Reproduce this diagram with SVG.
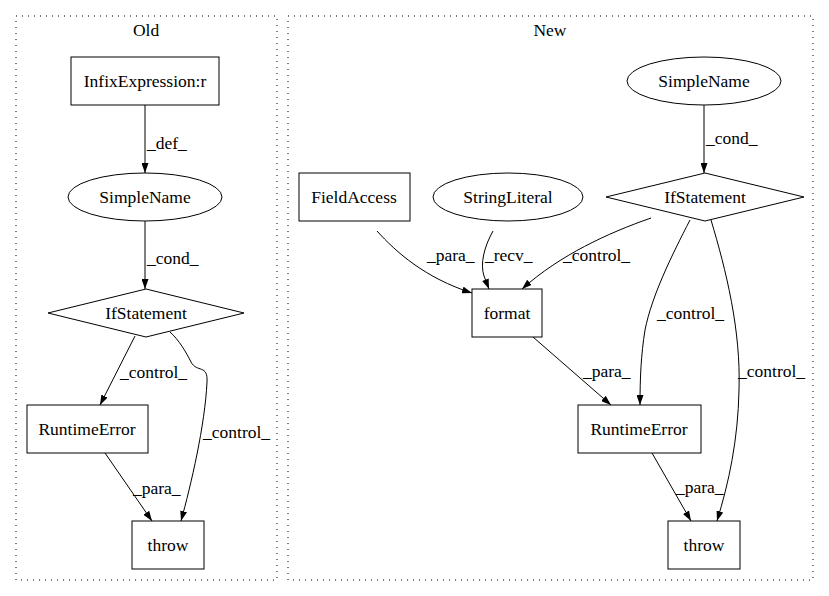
<svg xmlns="http://www.w3.org/2000/svg" width="829" height="596" viewBox="0 0 829 596">
<defs>
<marker id="arr" markerUnits="userSpaceOnUse" markerWidth="10" markerHeight="7" refX="10" refY="3.5" orient="auto">
<path d="M0,0 L10,3.5 L0,7 z" fill="#000"/>
</marker>
<style>
text{font-family:"Liberation Serif","Times New Roman",serif;font-size:17.5px;fill:#000}
.c{text-anchor:middle}
.n{fill:#fff;stroke:#000;stroke-width:1}
.cl{fill:none;stroke:#000;stroke-width:1;stroke-dasharray:1,5}
.e{fill:none;stroke:#000;stroke-width:1;marker-end:url(#arr)}
</style>
</defs>
<rect width="829" height="596" fill="#fff"/>
<g id="cluster_old">
<rect class="cl" x="16" y="16" width="261" height="564"/>
<text class="c" x="146" y="36">Old</text>
</g>
<g id="cluster_new">
<rect class="cl" x="288" y="16" width="525" height="564"/>
<text class="c" x="550" y="36">New</text>
</g>
<g id="connectors">
<path class="e" d="M145,105 L145,173"/>
<text x="147" y="149">_def_</text>
<path class="e" d="M145,221 L145,289"/>
<text x="147" y="264">_cond_</text>
<path class="e" d="M135,336 L100,405"/>
<text x="120" y="378">_control_</text>
<path class="e" d="M170,332 C179,340 186,352 191,362 C197,373 208,364 207,382 C205,425 191,485 181,521"/>
<text x="203" y="438">_control_</text>
<path class="e" d="M105,453 L152,521"/>
<text x="133" y="494">_para_</text>

<path class="e" d="M704,105 L704,173"/>
<text x="706" y="144">_cond_</text>
<path class="e" d="M377,231 C396,252 425,278 472,293"/>
<text x="427" y="261">_para_</text>
<path class="e" d="M493,231 C484,247 480,264 484,276 L489,289"/>
<text x="485" y="261">_recv_</text>
<path class="e" d="M651,218 C608,233 560,255 522,289"/>
<text x="563" y="261">_control_</text>
<path class="e" d="M533,337 L611,405"/>
<text x="583" y="377">_para_</text>
<path class="e" d="M690,220 C672,255 652,295 645,330 C641,355 640,378 640,405"/>
<text x="657" y="319">_control_</text>
<path class="e" d="M711,220 C726,270 741,330 739,390 C738,440 729,482 717,521"/>
<text x="738" y="377">_control_</text>
<path class="e" d="M652,453 L691,521"/>
<text x="676" y="493">_para_</text>
</g>
<g id="old_infix">
<rect class="n" x="71" y="57" width="148" height="48"/>
<text class="c" x="145" y="87">InfixExpression:r</text>
</g>
<g id="old_simplename">
<ellipse class="n" cx="145" cy="197" rx="77" ry="24"/>
<text class="c" x="145" y="203">SimpleName</text>
</g>
<g id="old_if">
<polygon class="n" points="146,289 244,313 146,337 48,313"/>
<text class="c" x="146" y="319">IfStatement</text>
</g>
<g id="old_runtimeerror">
<rect class="n" x="27" y="405" width="121" height="48"/>
<text class="c" x="87" y="435">RuntimeError</text>
</g>
<g id="old_throw">
<rect class="n" x="132" y="521" width="72" height="48"/>
<text class="c" x="168" y="551">throw</text>
</g>
<g id="new_simplename">
<ellipse class="n" cx="704" cy="81" rx="77" ry="24"/>
<text class="c" x="704" y="87">SimpleName</text>
</g>
<g id="new_if">
<polygon class="n" points="705,173 804,197 705,221 606,197"/>
<text class="c" x="705" y="203">IfStatement</text>
</g>
<g id="new_fieldaccess">
<rect class="n" x="299" y="173" width="111" height="48"/>
<text class="c" x="354" y="203">FieldAccess</text>
</g>
<g id="new_stringliteral">
<ellipse class="n" cx="508" cy="197" rx="75" ry="24"/>
<text class="c" x="508" y="203">StringLiteral</text>
</g>
<g id="new_format">
<rect class="n" x="472" y="289" width="70" height="48"/>
<text class="c" x="507" y="319">format</text>
</g>
<g id="new_runtimeerror">
<rect class="n" x="578" y="405" width="123" height="48"/>
<text class="c" x="639" y="435">RuntimeError</text>
</g>
<g id="new_throw">
<rect class="n" x="668" y="521" width="72" height="48"/>
<text class="c" x="704" y="551">throw</text>
</g>
</svg>
